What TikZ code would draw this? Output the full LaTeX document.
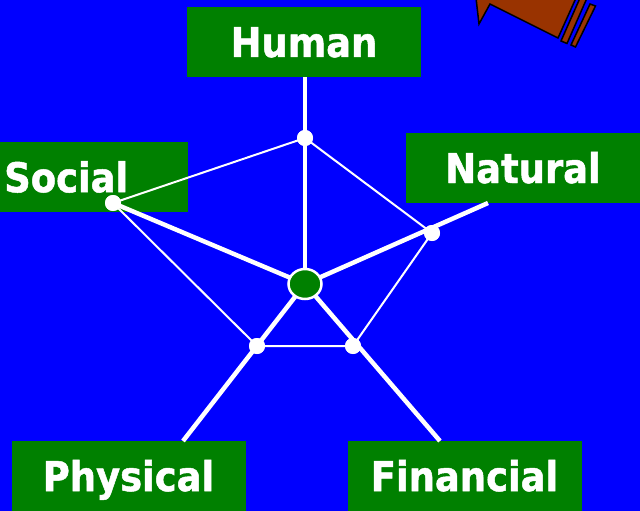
\documentclass[tikz,border=0pt]{standalone}
\usepackage{fontspec}
\newfontfamily\labfont[FakeStretch=0.9,FakeBold=1.2]{DejaVu Sans Bold}
\definecolor{bg}{RGB}{0,0,255}
\definecolor{gr}{RGB}{0,128,0}
\definecolor{br}{RGB}{153,51,0}
\begin{document}
\begin{tikzpicture}[x=1pt,y=-1pt,
  box/.style={fill=gr, draw=none, text=white, font=\labfont\fontsize{41}{41}\selectfont,
    minimum width=234pt, minimum height=70pt, inner sep=0pt, text height=30pt, text depth=0pt},
  thin/.style={white, line width=2pt},
  thick/.style={white, line width=4.5pt},
  dot/.style={circle, fill=white, minimum size=16pt, inner sep=0pt},
  hub/.style={ellipse, fill=gr, draw=white, line width=2.5pt, minimum width=33pt, minimum height=30pt, inner sep=0pt},
  arr/.style={fill=br, draw=black, line width=1.5pt, line join=miter}]
\usetikzlibrary{shapes.geometric}
\fill[bg] (0,0) rectangle (640,511);
\useasboundingbox (0,0) rectangle (640,511);
% brown arrow
\draw[arr] (476,-2) -- (479,24) -- (490,4) -- (558,38) -- (576,-2) -- cycle;
\draw[arr] (580,-2) -- (561,41) -- (567,43.5) -- (587,-2) -- cycle;
\draw[arr] (590,4) -- (571,45) -- (575.5,47) -- (595.5,6) -- cycle;
% boxes
\node[box] (human) at (304,42) {Human};
\node[box, anchor=north west, minimum width=187pt, text width=180pt, inner xsep=4pt, align=left] (social) at (0,142) {Social};
\node[box] (natural) at (523,168) {Natural};
\node[box] (physical) at (128.5,476) {Physical};
\node[box] (financial) at (464.5,476) {Financial};
% dots and hub
\node[dot] (dh) at (305,138) {};
\node[dot] (ds) at (113,203) {};
\node[dot] (dn) at (432,233) {};
\node[dot] (dp) at (257,346) {};
\node[dot] (df) at (353,346) {};
\coordinate (hc) at (305,284);
\coordinate (en) at (488,203);
\coordinate (ep) at (183,441);
\coordinate (ef) at (440,441);
% thin pentagon
\draw[thin] (dh.center) -- (ds.center) -- (dp.center) -- (df.center) -- (dn.center) -- (dh.center);
% thick spokes
\draw[thick] (hc) -- (hc |- human.south);
\draw[thick] (hc) -- (ds.center);
\draw[thick] (hc) -- (en);
\draw[thick] (hc) -- (ep);
\draw[thick] (hc) -- (ef);
\node[dot] at (dh) {};
\node[dot] at (ds) {};
\node[dot] at (dn) {};
\node[dot] at (dp) {};
\node[dot] at (df) {};
\node[hub] (hub) at (hc) {};
\end{tikzpicture}
\end{document}
